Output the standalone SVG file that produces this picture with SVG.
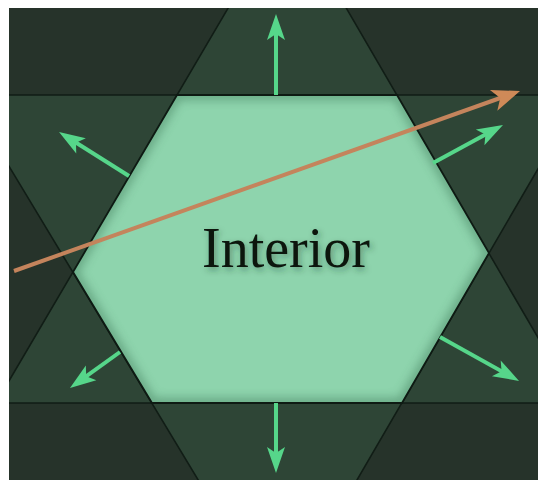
<svg xmlns="http://www.w3.org/2000/svg" width="538" height="480" viewBox="0 0 538 480">
  <defs>
    <style>
      .tri { fill: #2e4536; stroke: #111d16; stroke-width: 1.6; }
      .hexedge { fill: none; stroke: #0e1a13; stroke-width: 1.8; }
      .green { stroke: #56d68a; stroke-width: 4; fill: none; marker-end: url(#gh); }
      .orange { stroke: #c4845c; stroke-width: 4; fill: none; marker-end: url(#oh); }
      .label { font-family: "Liberation Serif", "Times New Roman", serif; font-size: 56px; fill: #0c150f; text-anchor: middle; }
    </style>
    <marker id="gh" markerUnits="userSpaceOnUse" markerWidth="40" markerHeight="40" viewBox="-20 -20 40 40" refX="0" refY="0" orient="auto" overflow="visible">
      <path d="M-16,-9 L10,0 L-16,9 L-10,0 Z" fill="#56d68a"/>
    </marker>
    <marker id="oh" markerUnits="userSpaceOnUse" markerWidth="40" markerHeight="40" viewBox="-20 -20 40 40" refX="0" refY="0" orient="auto" overflow="visible">
      <path d="M-16,-11 L12,0 L-16,11 L-9,0 Z" fill="#cf8a58"/>
    </marker>
    <clipPath id="frame"><rect x="9" y="8" width="529" height="472"/></clipPath>
    <clipPath id="hexclip"><polygon points="177,95 397,95 489,253 402,403 152,403 73,272"/></clipPath>
    <filter id="blur6" x="-20%" y="-20%" width="140%" height="140%"><feGaussianBlur stdDeviation="5"/></filter>
    <filter id="tshadow" x="-20%" y="-40%" width="140%" height="180%">
      <feGaussianBlur in="SourceAlpha" stdDeviation="3"/>
      <feOffset dx="2" dy="3" result="b"/>
      <feFlood flood-color="#1d3a2a" flood-opacity="0.45"/>
      <feComposite in2="b" operator="in"/>
      <feMerge><feMergeNode/><feMergeNode in="SourceGraphic"/></feMerge>
    </filter>
  </defs>
  <rect x="0" y="0" width="538" height="480" fill="#ffffff"/>
  <g id="background" clip-path="url(#frame)">
    <rect x="9" y="8" width="529" height="472" fill="#26332a"/>
    <polygon id="triangle-up" class="tri" points="287.5,-93 -4,403 576,403"/>
    <polygon id="triangle-down" class="tri" points="-34,95 581,95 279,614"/>
  </g>
  <g id="interior">
    <polygon points="177,95 397,95 489,253 402,403 152,403 73,272" fill="#8ed4ad"/>
    <g clip-path="url(#hexclip)">
      <polygon points="177,95 397,95 489,253 402,403 152,403 73,272" fill="none" stroke="#3f7a5a" stroke-width="10" opacity="0.5" filter="url(#blur6)"/>
    </g>
    <polygon class="hexedge" points="177,95 397,95 489,253 402,403 152,403 73,272"/>
    <text class="label" x="286" y="267" filter="url(#tshadow)">Interior</text>
  </g>
  <g id="connectors">
    <line class="green" x1="276" y1="95" x2="276" y2="24"/>
    <line class="green" x1="276" y1="403" x2="276" y2="463"/>
    <line class="green" x1="129" y1="176" x2="67.5" y2="137.3"/>
    <line class="green" x1="120" y1="352" x2="78.1" y2="382.2"/>
    <line class="green" x1="433" y1="163" x2="494.2" y2="129.8"/>
    <line class="green" x1="440" y1="337" x2="510.3" y2="376.1"/>
    <line class="orange" x1="14" y1="271" x2="508.7" y2="95"/>
  </g>
</svg>
